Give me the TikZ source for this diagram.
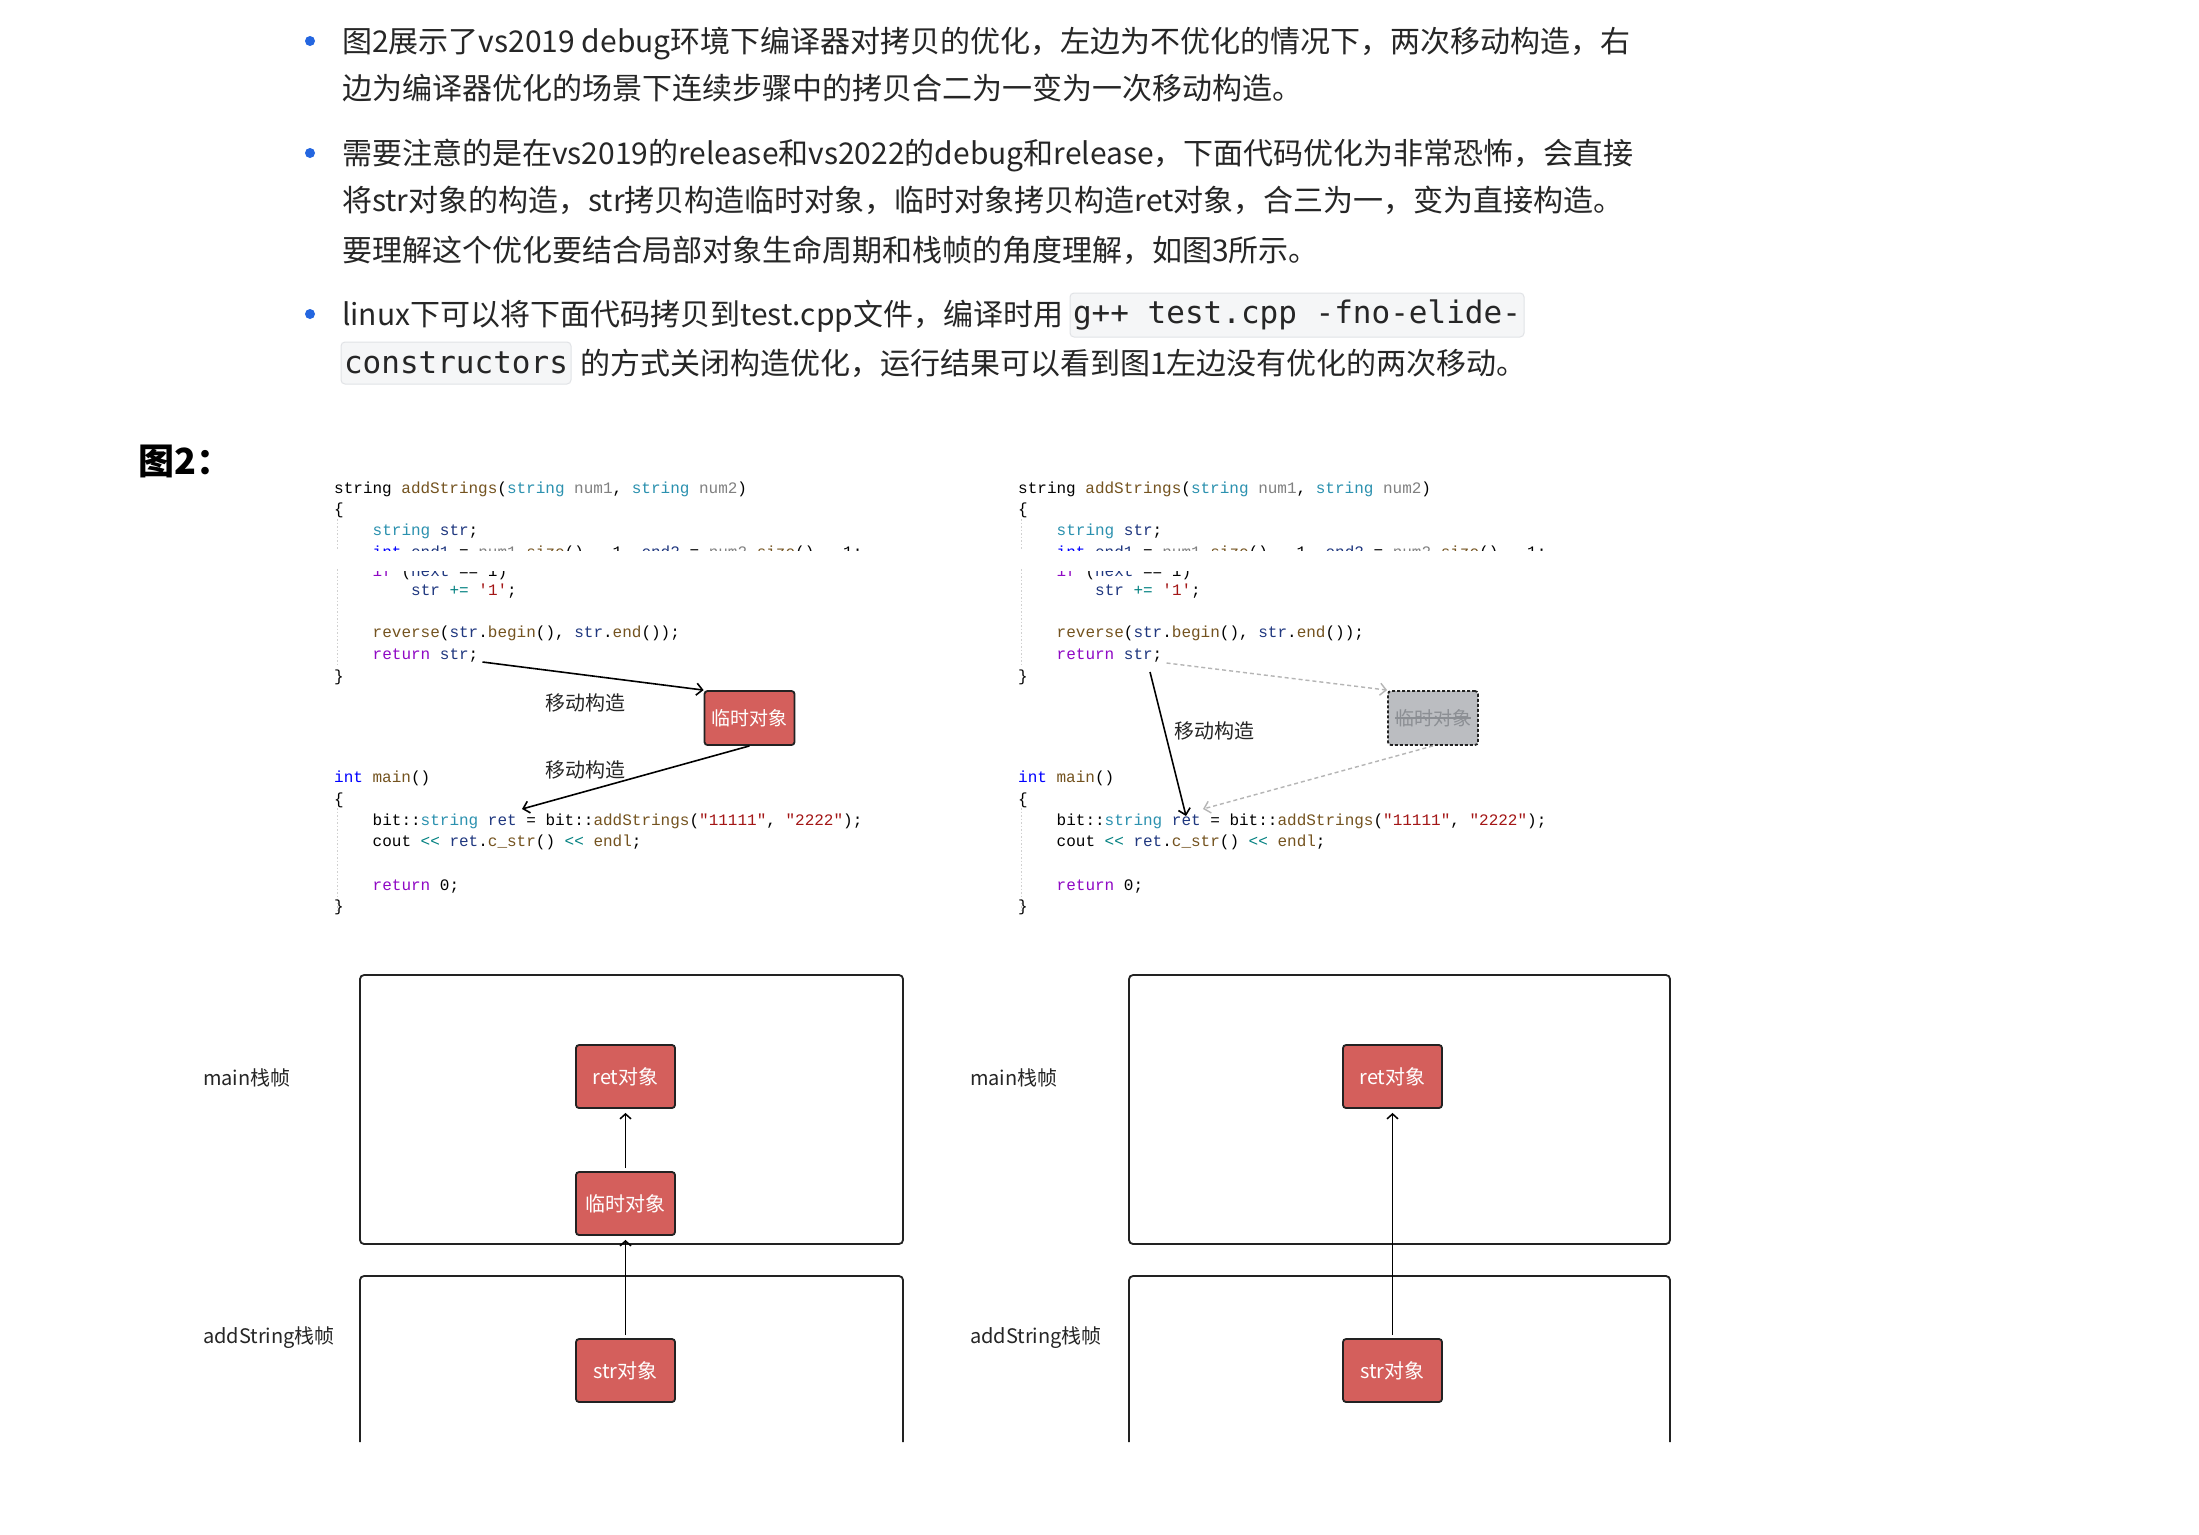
\documentclass[tikz,border=0pt]{standalone}
\usepackage{fontspec}
\setmainfont{Noto Sans CJK SC}
\newfontfamily\codefont{Liberation Mono}
\newfontfamily\icode{DejaVu Sans Mono}
\usetikzlibrary{arrows.meta,calc}
\definecolor{bodyc}{HTML}{262626}
\definecolor{bulletc}{HTML}{2466E0}
\definecolor{cty}{HTML}{2B91AF}
\definecolor{cfn}{HTML}{74531F}
\definecolor{cva}{HTML}{1F377F}
\definecolor{cpa}{HTML}{808080}
\definecolor{ckw}{HTML}{0000FF}
\definecolor{cct}{HTML}{8F08C4}
\definecolor{cop}{HTML}{008080}
\definecolor{cst}{HTML}{A31515}
\definecolor{redf}{HTML}{D45F5C}
\definecolor{boxline}{HTML}{222222}
\definecolor{grayf}{HTML}{BBBDC1}
\definecolor{grayt}{HTML}{8C8F94}
\definecolor{dashc}{HTML}{B5B5B5}
\definecolor{guide}{HTML}{D0D0D0}
\definecolor{ibg}{HTML}{F5F6F7}
\definecolor{iline}{HTML}{E1E3E6}
\newcommand\cTy[1]{\textcolor{cty}{#1}}
\newcommand\cFn[1]{\textcolor{cfn}{#1}}
\newcommand\cVa[1]{\textcolor{cva}{#1}}
\newcommand\cPa[1]{\textcolor{cpa}{#1}}
\newcommand\cKw[1]{\textcolor{ckw}{#1}}
\newcommand\cCt[1]{\textcolor{cct}{#1}}
\newcommand\cOp[1]{\textcolor{cop}{#1}}
\newcommand\cSt[1]{\textcolor{cst}{#1}}
\tikzset{
  txt/.style={anchor=base west, inner sep=0pt, text=bodyc, font=\fontsize{30}{36}\selectfont},
  code/.style={anchor=base west, inner sep=0pt, font=\codefont\fontsize{16}{19}\selectfont},
  icodebox/.style={draw=iline, fill=ibg, rounded corners=4pt, line width=1pt, inner sep=0pt, font=\icode\fontsize{31}{36}\selectfont, text=bodyc},
  lbl/.style={inner sep=0pt, text=bodyc, font=\fontsize{20}{24}\selectfont},
  redbox/.style={draw=boxline, fill=redf, rounded corners=3pt, line width=1.8pt, text=white, inner sep=0pt},
  graybox/.style={draw=boxline, fill=grayf, rounded corners=3pt, line width=1.8pt, dash pattern=on 3pt off 2pt, text=grayt, inner sep=0pt},
  frame/.style={draw=boxline, rounded corners=4pt, line width=1.8pt, inner sep=0pt},
  arr/.style={-{Straight Barb[length=6pt,width=12pt]}, line width=1.6pt, draw=black},
  darr/.style={-{Straight Barb[length=6pt,width=12pt]}, line width=1.4pt, draw=dashc, dash pattern=on 4pt off 3pt},
  barr/.style={-{Straight Barb[length=5pt,width=11pt]}, line width=1.5pt, draw=black},
  guideline/.style={draw=guide, line width=1pt, dash pattern=on 1.5pt off 2pt},
}
\newcommand\codeblock[2]{%
\begin{scope}[shift={(#2,0)}]
  \draw[guideline] (337,519) -- (337,549);
  \draw[guideline] (337,569) -- (337,665);
  \draw[guideline] (337,808) -- (337,913);
  \node[code] (#1a) at (334,493) {string \cFn{addStrings}(\cTy{string} \cPa{num1}, \cTy{string} \cPa{num2})};
  \node[code] (#1b) at (334,514) {\{};
  \node[code] (#1c) at (372.5,535) {\cTy{string} \cVa{str};};
  \begin{scope}
    \clip (330,520) rectangle (900,550);
    \node[code] (#1d) at (372.5,557) {\cKw{int} \cVa{end1} = \cPa{num1}.\cFn{size}() - 1, \cVa{end2} = \cPa{num2}.\cFn{size}() - 1;};
  \end{scope}
  \begin{scope}
    \clip (330,571) rectangle (900,585);
    \node[code] (#1e) at (372.5,576) {\cCt{if} (\cVa{next} == 1)};
  \end{scope}
  \node[code] (#1f) at (411,595) {\cVa{str} \cOp{+=} \cSt{'1'};};
  \node[code] (#1g) at (372.5,637) {\cFn{reverse}(\cVa{str}.\cFn{begin}(), \cVa{str}.\cFn{end}());};
  \node[code] (#1h) at (372.5,659) {\cCt{return} \cVa{str};};
  \node[code] (#1i) at (334,681) {\}};
  \node[code] (#1j) at (334,782) {\cKw{int} \cFn{main}()};
  \node[code] (#1k) at (334,804) {\{};
  \node[code] (#1l) at (372.5,825) {bit::\cTy{string} \cVa{ret} = bit::\cFn{addStrings}(\cSt{"11111"}, \cSt{"2222"});};
  \node[code] (#1m) at (372.5,846) {cout \cOp{<<} \cVa{ret}.\cFn{c\_str}() \cOp{<<} \cFn{endl};};
  \node[code] (#1n) at (372.5,890) {\cCt{return} 0;};
  \node[code] (#1o) at (334,911) {\}};
\end{scope}}
\begin{document}
\begin{tikzpicture}[x=1pt,y=-1pt]
\useasboundingbox[fill=white] (0,0) rectangle (2199,1534);

% ---------- bullets text ----------
\fill[bulletc] (310,41) circle (5pt);
\fill[bulletc] (310,153) circle (5pt);
\fill[bulletc] (310,314) circle (5pt);
\node[txt] (t1) at (342,52) {图2展示了vs2019 debug环境下编译器对拷贝的优化，左边为不优化的情况下，两次移动构造，右};
\node[txt] (t2) at (342,99) {边为编译器优化的场景下连续步骤中的拷贝合二为一变为一次移动构造。};
\node[txt] (t3) at (342,164) {需要注意的是在vs2019的release和vs2022的debug和release，下面代码优化为非常恐怖，会直接};
\node[txt] (t4) at (342,211.5) {将str对象的构造，str拷贝构造临时对象，临时对象拷贝构造ret对象，合三为一，变为直接构造。};
\node[txt] (t5) at (342,261) {要理解这个优化要结合局部对象生命周期和栈帧的角度理解，如图3所示。};
\node[txt] (t6) at (342,325) {linux下可以将下面代码拷贝到test.cpp文件，编译时用};
\node[icodebox, minimum width=454pt, minimum height=44pt] (c1) at (1297,315) {g++ test.cpp -fno-elide-};
\node[icodebox, minimum width=230pt, minimum height=42pt] (c2) at (456,363) {constructors};
\node[txt] (t7) at (580,374) {的方式关闭构造优化，运行结果可以看到图1左边没有优化的两次移动。};

% ---------- heading ----------
\node[anchor=base west, inner sep=0pt, text=black, font=\bfseries\fontsize{36}{42}\selectfont] (head) at (138,474) {图2：};

% ---------- code screenshots ----------
\codeblock{L}{0}
\codeblock{R}{684}

% left: two move constructions
\node[redbox, minimum width=90pt, minimum height=54pt, font=\fontsize{19}{23}\selectfont] (Ltmp) at (749.5,718) {临时对象};
\coordinate (Lsrc) at ($(Lh.base east)+(4,3)$);
\coordinate (Ltip) at (522,809);
\draw[arr] (Lsrc) -- (Ltmp.north west);
\draw[arr] (Ltmp.south) -- (Ltip);
\node[lbl] (Lm1) at (585,703) {移动构造};
\node[lbl] (Lm2) at (585,770) {移动构造};

% right: optimized
\node[graybox, minimum width=90pt, minimum height=54pt, font=\fontsize{19}{23}\selectfont] (Rtmp) at (1433,718) {临时对象};
\draw[grayt, line width=1.2pt] ($(Rtmp.center)+(-38,0)$) -- ($(Rtmp.center)+(38,0)$);
\coordinate (Rsrc) at (1150,672);
\coordinate (Rtip) at (1186,816);
\coordinate (Rdsrc) at ($(Rh.base east)+(4,4)$);
\coordinate (Rdtip) at (1203,809);
\draw[darr] (Rdsrc) -- (Rtmp.north west);
\draw[darr] (Rtmp.south) -- (Rdtip);
\draw[arr] (Rsrc) -- (Rtip);
\node[lbl] (Rm1) at (1214,731) {移动构造};

% ---------- stack frames: left ----------
\node[frame, minimum width=543pt, minimum height=269pt] (Lmain) at (631.5,1109.5) {};
\draw[frame] (360,1442) -- (360,1276) -- (903,1276) -- (903,1442);
\node[lbl, anchor=base west] (Lml) at (203,1085) {main栈帧};
\node[lbl, anchor=base west] (Lal) at (203,1343) {addString栈帧};
\node[redbox, minimum width=99pt, minimum height=63pt, font=\fontsize{20}{24}\selectfont] (Lret) at (625.5,1076.5) {ret对象};
\node[redbox, minimum width=99pt, minimum height=63pt, font=\fontsize{20}{24}\selectfont] (Ltmp2) at (625.5,1203.5) {临时对象};
\node[redbox, minimum width=99pt, minimum height=63pt, font=\fontsize{20}{24}\selectfont] (Lstr) at (625.5,1370.5) {str对象};
\draw[barr, shorten <=3pt, shorten >=4pt] (Ltmp2.north) -- (Lret.south);
\draw[barr, shorten <=3pt, shorten >=4pt] (Lstr.north) -- (Ltmp2.south);

% ---------- stack frames: right ----------
\node[frame, minimum width=541pt, minimum height=269pt] (Rmain) at (1399.5,1109.5) {};
\draw[frame] (1129,1442) -- (1129,1276) -- (1670,1276) -- (1670,1442);
\node[lbl, anchor=base west] (Rml) at (970,1085) {main栈帧};
\node[lbl, anchor=base west] (Ral) at (970,1343) {addString栈帧};
\node[redbox, minimum width=99pt, minimum height=63pt, font=\fontsize{20}{24}\selectfont] (Rret) at (1392.5,1076.5) {ret对象};
\node[redbox, minimum width=99pt, minimum height=63pt, font=\fontsize{20}{24}\selectfont] (Rstr) at (1392.5,1370.5) {str对象};
\draw[barr, shorten <=3pt, shorten >=4pt] (Rstr.north) -- (Rret.south);
\end{tikzpicture}
\end{document}
